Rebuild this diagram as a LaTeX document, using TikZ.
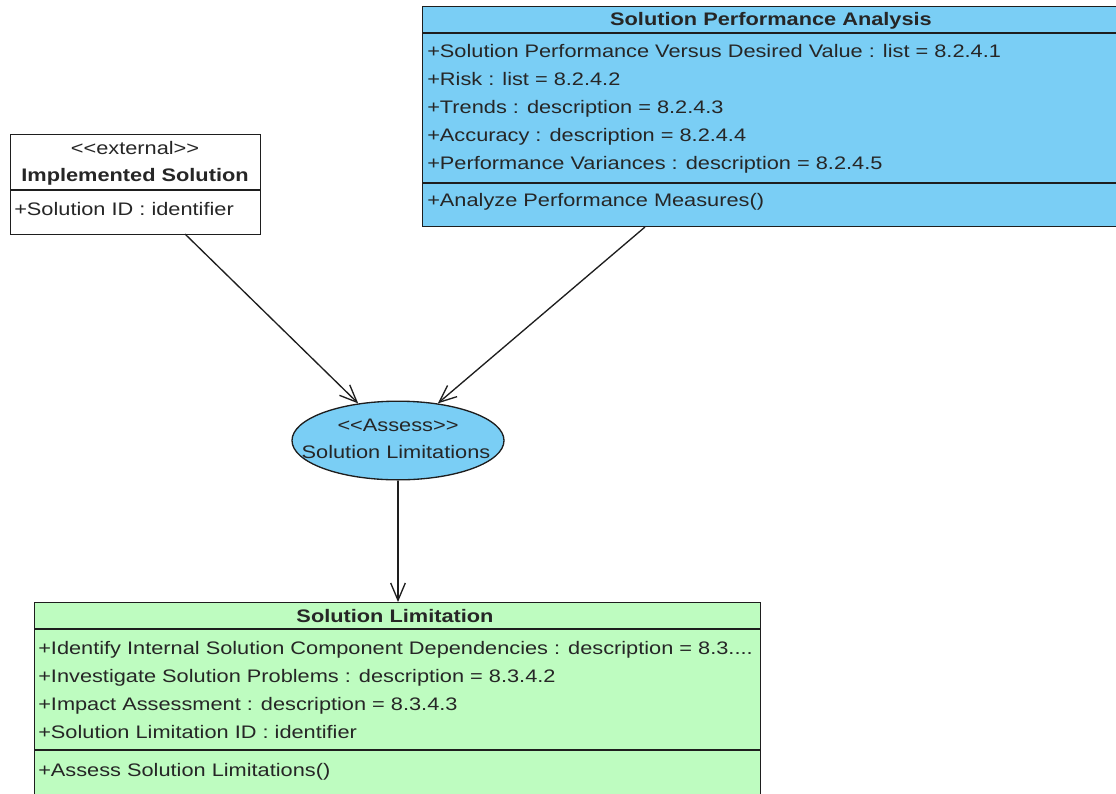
\documentclass[tikz,border=0pt]{standalone}
\usepackage{fontspec}
\newfontfamily\umlfont[FakeStretch=1.2]{Liberation Sans}
\usetikzlibrary{arrows.meta,shapes.geometric}
\definecolor{clsblue}{RGB}{122,206,245}
\definecolor{clsgreen}{RGB}{190,252,192}
\definecolor{edge}{RGB}{30,30,30}
\begin{document}
\begin{tikzpicture}[x=0.75pt,y=-0.75pt,
  font=\umlfont\fontsize{13.6}{16}\selectfont,
  classbox/.style={draw=edge,line width=1pt,anchor=north west,inner sep=0pt},
  divider/.style={draw=edge,line width=1pt},
  member/.style={anchor=base west,inner sep=0pt,text=black!85},
  title/.style={anchor=base,inner sep=0pt,font=\umlfont\bfseries\fontsize{13.6}{16}\selectfont,text=black!85},
  stereo/.style={anchor=base,inner sep=0pt,text=black!85},
  usecase/.style={ellipse,draw=edge,line width=1pt,fill=clsblue,inner sep=0pt},
  dep/.style={draw=edge,line width=1pt,-{Straight Barb[length=13pt,width=11pt,line width=1pt]}}]
\useasboundingbox (0,0) rectangle (1116,793);
\clip (0,0) rectangle (1116,793);

% Implemented Solution
\node[classbox,fill=white,minimum width=187.5pt,minimum height=75pt] (impl) at (10,134) {};
\draw[divider] (10,190) -- (260,190);
\node[stereo] (implst) at (135,154) {<<external>>};
\node[title] (implnm) at (135,181) {Implemented Solution};
\node[member] (impla1) at (14,215) {+Solution ID : identifier};

% Solution Performance Analysis
\node[classbox,fill=clsblue,minimum width=525pt,minimum height=165pt] (spa) at (422,6) {};
\draw[divider] (422,33) -- (1120,33);
\draw[divider] (422,183) -- (1120,183);
\node[title] (spant) at (771,25) {Solution Performance Analysis};
\node[member] (spaa1) at (427,57) {+Solution Performance Versus Desired Value : list = 8.2.4.1};
\node[member] (spaa2) at (427,85) {+Risk : list = 8.2.4.2};
\node[member] (spaa3) at (427,113) {+Trends : description = 8.2.4.3};
\node[member] (spaa4) at (427,141) {+Accuracy : description = 8.2.4.4};
\node[member] (spaa5) at (427,169) {+Performance Variances : description = 8.2.4.5};
\node[member] (spao1) at (427,206) {+Analyze Performance Measures()};

% Assess use case
\node[usecase,minimum width=159pt,minimum height=59pt] (uc) at (398,440.5) {};
\node[stereo] (ucst) at (398,431) {<<Assess>>};
\node[stereo] (ucnm) at (396,458) {Solution Limitations};

% Solution Limitation
\node[classbox,fill=clsgreen,minimum width=544.5pt,minimum height=150pt] (sl) at (34,602) {};
\draw[divider] (34,629) -- (760,629);
\draw[divider] (34,750) -- (760,750);
\node[title] (slnm) at (395,622) {Solution Limitation};
\node[member] (sla1) at (38,654) {+Identify Internal Solution Component Dependencies : description = 8.3....};
\node[member] (sla2) at (38,682) {+Investigate Solution Problems : description = 8.3.4.2};
\node[member] (sla3) at (38,710) {+Impact Assessment : description = 8.3.4.3};
\node[member] (sla4) at (38,738) {+Solution Limitation ID : identifier};
\node[member] (slo1) at (38,776) {+Assess Solution Limitations()};

% Dependencies
\coordinate (implout) at (185,234);
\coordinate (spaout) at (645,227);
\draw[dep] (implout) -- (uc.137);
\draw[dep] (spaout) -- (uc.43);
\draw[dep] (uc.south) -- (sl.north -| uc.south);
\end{tikzpicture}
\end{document}
